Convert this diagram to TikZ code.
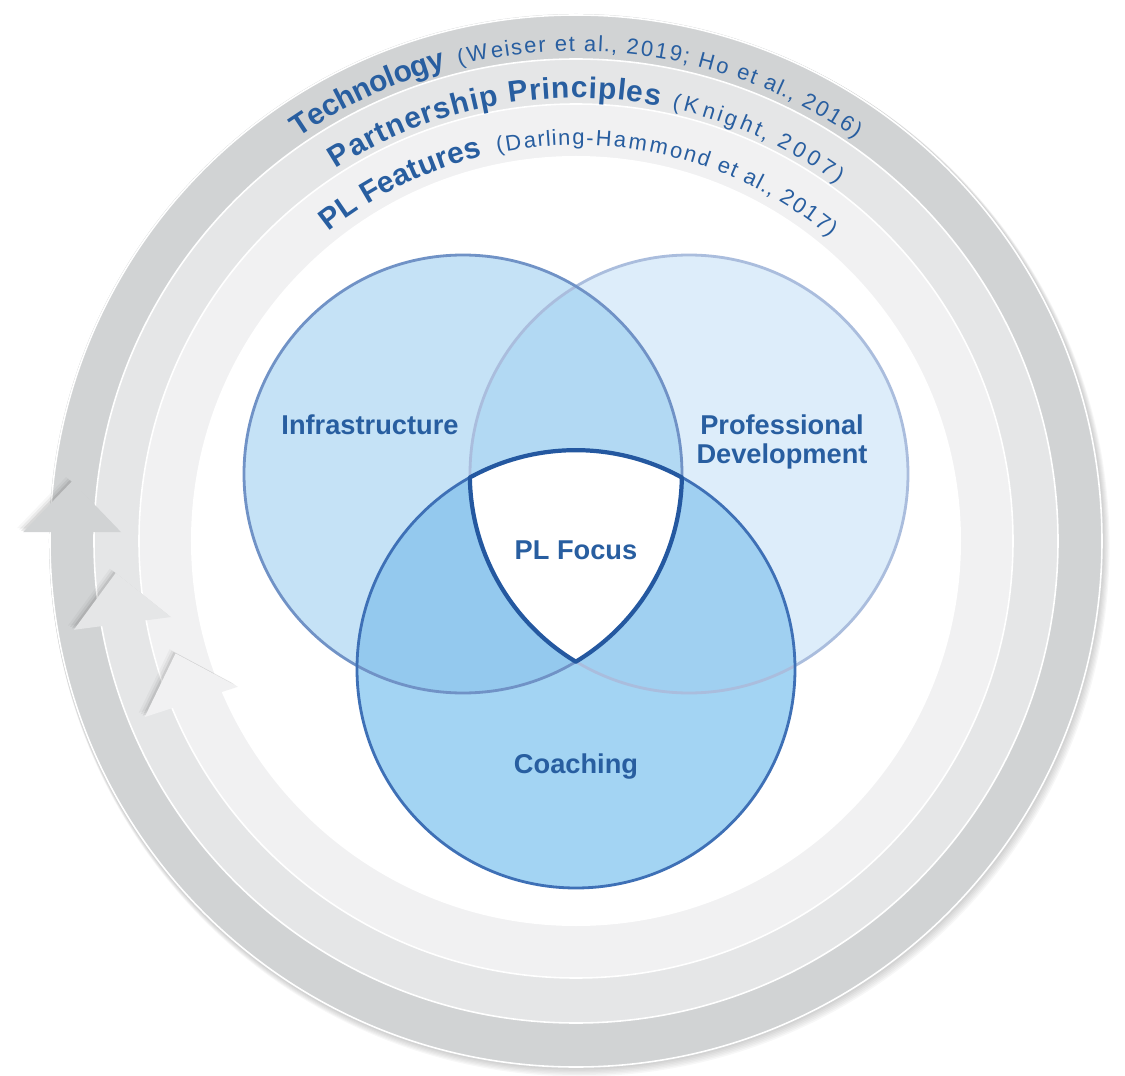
\documentclass[tikz,border=0pt]{standalone}
\usepackage{fontspec}
\setmainfont{Liberation Sans}
\usetikzlibrary{calc}
\usetikzlibrary{decorations.text}

\definecolor{ringdark}{RGB}{209,211,212}
\definecolor{ringmid}{RGB}{229,230,231}
\definecolor{ringlight}{RGB}{241,241,242}
\definecolor{txtblue}{RGB}{40,94,160}
\definecolor{infrafill}{RGB}{197,226,246}
\definecolor{pdfill}{RGB}{221,237,250}
\definecolor{coachfill}{RGB}{163,212,243}
\definecolor{ipfill}{RGB}{178,217,243}
\definecolor{icfill}{RGB}{148,201,238}
\definecolor{pcfill}{RGB}{160,208,241}
\definecolor{infraline}{RGB}{112,146,198}
\definecolor{pdline}{RGB}{170,189,221}
\definecolor{coachline}{RGB}{62,112,182}
\definecolor{focusline}{RGB}{36,88,160}

\begin{document}
\begin{tikzpicture}[
    x=0.02cm,y=0.02cm,
    band/.style={draw=white,line width=0.9pt},
    venn/.style={line width=1.6pt},
    vennlabel/.style={font=\fontsize{15.5}{16.5}\selectfont\bfseries,text=txtblue,align=center,inner sep=0pt},
    ringword/.style={decorate,decoration={text effects along path,text={#1},
        text effects/.cd,text along path,fit text to path,
        characters={text=txtblue,font=\fontsize{17}{17}\selectfont\bfseries}}},
    ringcite/.style={decorate,decoration={text effects along path,text={#1},
        text effects/.cd,text along path,fit text to path,
        characters={text=txtblue,font=\fontsize{12.5}{12.5}\selectfont}}},
]
    \useasboundingbox (-576,-534) rectangle (549,541);

    % soft shadow round the rings
    \foreach \s in {1,...,6}
        \fill[black,opacity=0.03] (0.6*\s,-0.9*\s) circle[radius=527+0.5*\s];

    % the three bands
    \fill[ringdark] (0,0) circle[radius=527];
    \fill[ringmid] (0,0) circle[radius=482];
    \fill[ringlight] (0,0) circle[radius=437];
    \fill[white] (0,0) circle[radius=385];
    \foreach \r in {482,437,526}
        \draw[band] (0,0) circle[radius=\r];

    % arrow heads
    \foreach \pa/\pr/\pd/\pc in {179/504/90/ringdark, 190.3/461/97.5/ringmid, 202.7/417/108/ringlight} {
        \coordinate (hl) at ($(\pa:\pr)+(\pd+90:49)$);
        \coordinate (hr) at ($(\pa:\pr)+(\pd-90:49)$);
        \coordinate (ht) at ($(\pa:\pr)+(\pd:51)$);
        \foreach \s/\o in {6/0.03,4/0.05,2/0.08}
            \fill[black,opacity=\o] ([shift={(-\s,0.7*\s)}]hl) -- ([shift={(-\s,0.7*\s)}]ht) -- ([shift={(-\s,0.7*\s)}]hr) -- cycle;
        \fill[\pc] (hl) -- (ht) -- (hr) -- cycle;
    }

    % texts on the bands
    \path[ringword={Technology}] (124.5:490) arc[start angle=124.5,end angle=105.3,radius=490];
    \path[ringcite={(Weiser et al., 2019; Ho et al., 2016)}] (103.8:490) arc[start angle=103.8,end angle=55.2,radius=490];
    \path[ringword={Partnership Principles}] (122.8:443) arc[start angle=122.8,end angle=79.1,radius=443];
    \path[ringcite={(Knight, 2007)}] (77.5:443) arc[start angle=77.5,end angle=53.8,radius=443];
    \path[ringword={PL Features}] (128.6:396) arc[start angle=128.6,end angle=103.7,radius=396];
    \path[ringcite={(Darling-Hammond et al., 2017)}] (101.4:396) arc[start angle=101.4,end angle=50.1,radius=396];

    % Venn circles
    \coordinate (cI) at (-113,67);
    \coordinate (cP) at (113,67);
    \coordinate (cC) at (0,-128);
    \fill[infrafill] (cI) circle[radius=219];
    \fill[pdfill] (cP) circle[radius=219];
    \fill[coachfill] (cC) circle[radius=219];
    \begin{scope}
        \clip (cI) circle[radius=219];
        \fill[ipfill] (cP) circle[radius=219];
        \fill[icfill] (cC) circle[radius=219];
    \end{scope}
    \begin{scope}
        \clip (cP) circle[radius=219];
        \fill[pcfill] (cC) circle[radius=219];
    \end{scope}
    \begin{scope}
        \clip (cI) circle[radius=219];
        \clip (cP) circle[radius=219];
        \fill[white] (cC) circle[radius=219];
    \end{scope}
    \draw[venn,pdline] (cP) circle[radius=219];
    \draw[venn,infraline] (cI) circle[radius=219];
    \draw[venn,coachline] (cC) circle[radius=219];
    % border of the focus
    \coordinate (fb) at (0,-120.6);
    \draw[focusline,line width=2.4pt,line join=round] (fb)
        arc[start angle=-58.9,end angle=-0.9,radius=219]
        arc[start angle=61.05,end angle=118.95,radius=219]
        arc[start angle=180.9,end angle=238.9,radius=219] -- cycle;

    \node[vennlabel] (infra) at (-206,116) {Infrastructure};
    \node[vennlabel] (prodev) at (206,99) {Professional\\Development};
    \node[vennlabel] (focus) at (0,-9) {PL Focus};
    \node[vennlabel] (coach) at (0,-226) {Coaching};
\end{tikzpicture}
\end{document}
